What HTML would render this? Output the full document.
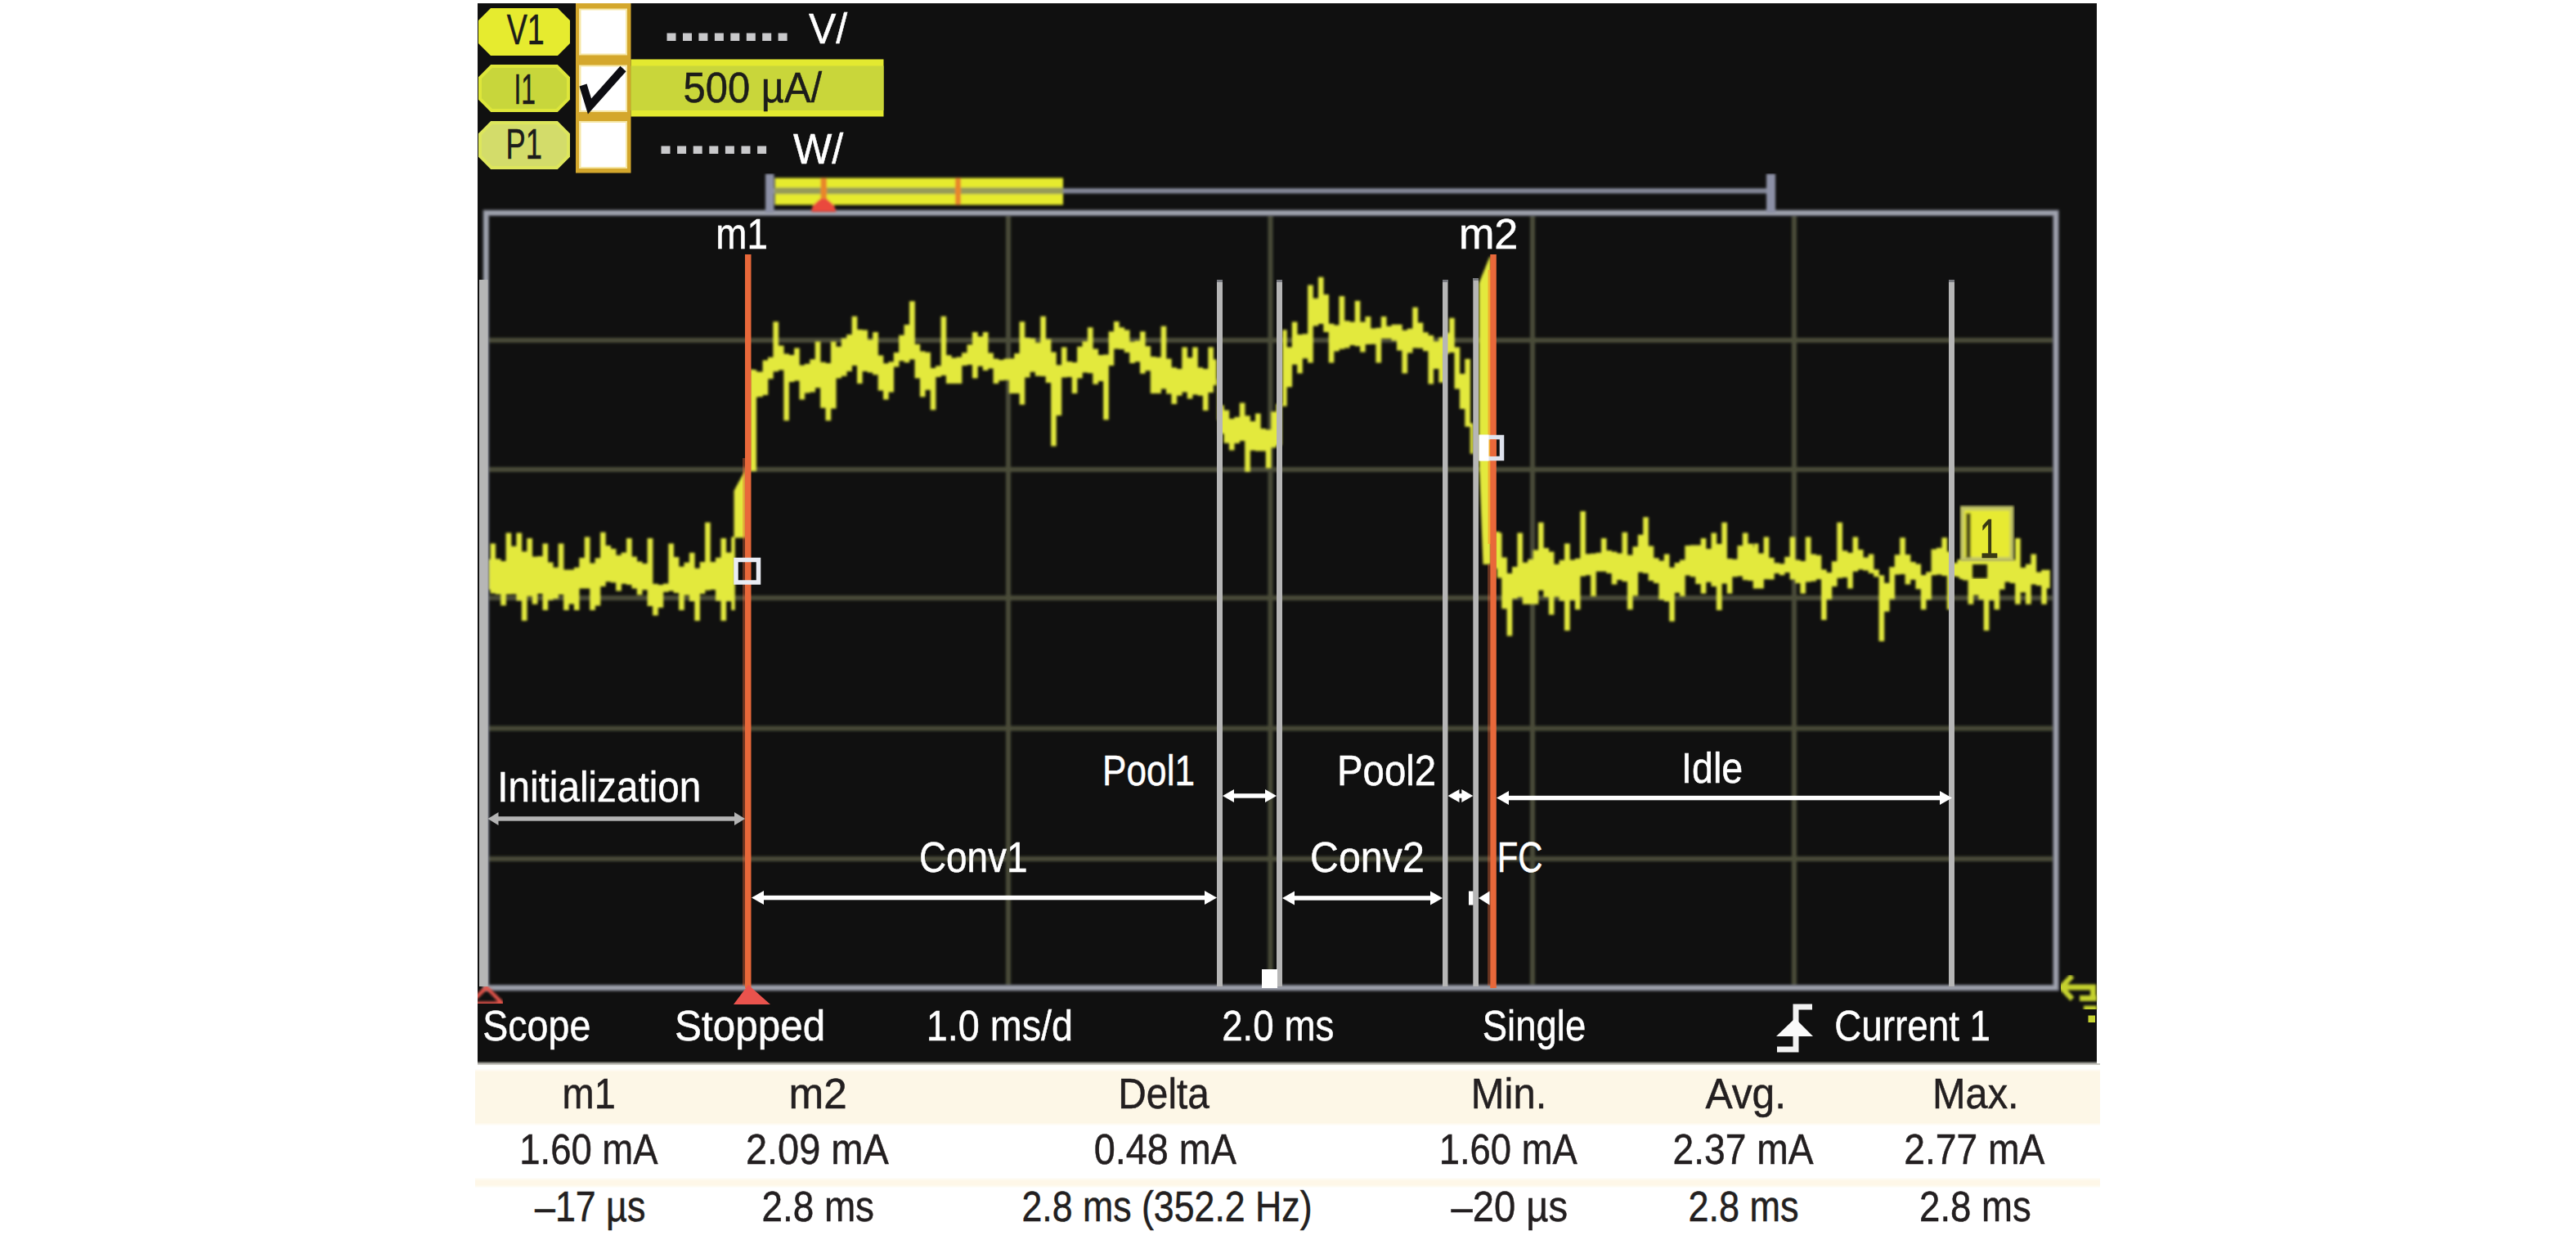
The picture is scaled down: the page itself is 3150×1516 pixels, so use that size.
<!DOCTYPE html>
<html lang="en"><head><meta charset="utf-8"><title>Scope current trace</title>
<style>html,body{margin:0;padding:0;background:#fff}body{width:3150px;height:1516px;overflow:hidden}svg{display:block}text{white-space:pre}</style>
</head><body>
<svg width="3150" height="1516" viewBox="0 0 3150 1516" font-family="'Liberation Sans', sans-serif">
<rect width="3150" height="1516" fill="#fff"/>
<rect x="584" y="4" width="1980" height="1294" fill="#101010"/>
<rect x="584" y="1298" width="1980" height="2" fill="#6e6e6a"/>
<rect x="584" y="1300" width="1984" height="2" fill="#c9c8c2"/>
<rect x="581" y="1307.5" width="1987" height="68" fill="#fefbf3"/>
<rect x="581" y="1309.5" width="1987" height="64" fill="#fdf7e7"/>
<rect x="581" y="1440.5" width="1987" height="11" fill="#fefbf2"/>
<rect x="581" y="1442.5" width="1987" height="7" fill="#fef7e8"/>
<text x="687.6" y="1355.0" font-size="51" fill="#231f20" stroke="#231f20" stroke-width="0.5" textLength="65.2" lengthAdjust="spacingAndGlyphs">m1</text>
<text x="964.6" y="1355.0" font-size="51" fill="#231f20" stroke="#231f20" stroke-width="0.5" textLength="71.2" lengthAdjust="spacingAndGlyphs">m2</text>
<text x="1367.3" y="1355.0" font-size="51" fill="#231f20" stroke="#231f20" stroke-width="0.5" textLength="111.6" lengthAdjust="spacingAndGlyphs">Delta</text>
<text x="1798.8" y="1355.0" font-size="51" fill="#231f20" stroke="#231f20" stroke-width="0.5" textLength="92.5" lengthAdjust="spacingAndGlyphs">Min.</text>
<text x="2085.4" y="1355.0" font-size="51" fill="#231f20" stroke="#231f20" stroke-width="0.5" textLength="98.7" lengthAdjust="spacingAndGlyphs">Avg.</text>
<text x="2363.0" y="1355.0" font-size="51" fill="#231f20" stroke="#231f20" stroke-width="0.5" textLength="105.6" lengthAdjust="spacingAndGlyphs">Max.</text>
<text x="635.3" y="1423.0" font-size="51" fill="#231f20" stroke="#231f20" stroke-width="0.5" textLength="169.2" lengthAdjust="spacingAndGlyphs">1.60 mA</text>
<text x="912.0" y="1423.0" font-size="51" fill="#231f20" stroke="#231f20" stroke-width="0.5" textLength="174.7" lengthAdjust="spacingAndGlyphs">2.09 mA</text>
<text x="1337.7" y="1423.0" font-size="51" fill="#231f20" stroke="#231f20" stroke-width="0.5" textLength="174.4" lengthAdjust="spacingAndGlyphs">0.48 mA</text>
<text x="1759.8" y="1423.0" font-size="51" fill="#231f20" stroke="#231f20" stroke-width="0.5" textLength="168.9" lengthAdjust="spacingAndGlyphs">1.60 mA</text>
<text x="2045.5" y="1423.0" font-size="51" fill="#231f20" stroke="#231f20" stroke-width="0.5" textLength="172.0" lengthAdjust="spacingAndGlyphs">2.37 mA</text>
<text x="2328.2" y="1423.0" font-size="51" fill="#231f20" stroke="#231f20" stroke-width="0.5" textLength="172.3" lengthAdjust="spacingAndGlyphs">2.77 mA</text>
<text x="654.0" y="1493.0" font-size="51" fill="#231f20" stroke="#231f20" stroke-width="0.5" textLength="135.3" lengthAdjust="spacingAndGlyphs">–17 µs</text>
<text x="931.5" y="1493.0" font-size="51" fill="#231f20" stroke="#231f20" stroke-width="0.5" textLength="137.5" lengthAdjust="spacingAndGlyphs">2.8 ms</text>
<text x="1249.4" y="1493.0" font-size="51" fill="#231f20" stroke="#231f20" stroke-width="0.5" textLength="355.2" lengthAdjust="spacingAndGlyphs">2.8 ms (352.2 Hz)</text>
<text x="1774.5" y="1493.0" font-size="51" fill="#231f20" stroke="#231f20" stroke-width="0.5" textLength="142.6" lengthAdjust="spacingAndGlyphs">–20 µs</text>
<text x="2064.4" y="1493.0" font-size="51" fill="#231f20" stroke="#231f20" stroke-width="0.5" textLength="135.1" lengthAdjust="spacingAndGlyphs">2.8 ms</text>
<text x="2347.1" y="1493.0" font-size="51" fill="#231f20" stroke="#231f20" stroke-width="0.5" textLength="136.8" lengthAdjust="spacingAndGlyphs">2.8 ms</text>
<defs><filter id="bg" x="-1%" y="-1%" width="102%" height="102%"><feGaussianBlur stdDeviation="1.4"/></filter></defs>
<g filter="url(#bg)">
<rect x="1230" y="263" width="6" height="942" fill="#484b39"/>
<rect x="1550.5" y="263" width="6" height="942" fill="#484b39"/>
<rect x="1871" y="263" width="6" height="942" fill="#484b39"/>
<rect x="2191" y="263" width="6" height="942" fill="#484b39"/>
<rect x="597" y="413" width="1914" height="6" fill="#484b39"/>
<rect x="597" y="571" width="1914" height="6" fill="#484b39"/>
<rect x="597" y="728" width="1914" height="6" fill="#484b39"/>
<rect x="597" y="887.5" width="1914" height="6" fill="#484b39"/>
<rect x="597" y="1047" width="1914" height="6" fill="#484b39"/>
</g>
<defs><filter id="bl" x="-2%" y="-10%" width="104%" height="120%"><feGaussianBlur stdDeviation="1.8"/></filter></defs>
<g fill="#e3e93d" filter="url(#bl)">
<path d="M596.1 683.7H599.7V721.1H596.1ZM599.4 664.5H606.1V725.6H599.4ZM605.8 683.2H612.5V726.8H605.8ZM612.2 685.9H618.9V740.3H612.2ZM618.6 651.6H625.3V726.7H618.6ZM625.0 667.7H631.7V726.4H625.0ZM631.4 651.6H638.2V734.3H631.4ZM637.9 674.2H644.6V758.9H637.9ZM644.3 658.1H651.0V729.1H644.3ZM650.7 680.6H657.4V738.7H650.7ZM657.1 679.9H663.8V726.1H657.1ZM663.5 664.5H670.2V746.0H663.5ZM669.9 687.6H676.6V733.6H669.9ZM676.3 693.8H683.0V731.9H676.3ZM682.7 664.5H689.4V727.1H682.7ZM689.1 696.6H695.8V746.0H689.1ZM695.5 696.5H702.2V738.6H695.5ZM701.9 693.8H708.6V746.0H701.9ZM708.3 682.1H715.1V719.5H708.3ZM714.8 656.5H721.5V719.5H714.8ZM721.2 688.5H727.9V746.0H721.2ZM727.6 682.2H734.3V740.4H727.6ZM734.0 650.8H740.7V716.9H734.0ZM740.4 667.1H747.1V711.2H740.4ZM746.8 671.1H753.5V712.2H746.8ZM753.2 678.7H759.9V722.6H753.2ZM759.6 675.5H766.3V713.7H759.6ZM766.0 658.1H772.7V715.1H766.0ZM772.4 680.6H779.1V719.4H772.4ZM778.8 686.4H785.5V727.4H778.8ZM785.2 689.0H791.9V721.2H785.2ZM791.6 658.1H798.4V741.1H791.6ZM798.1 713.7H804.8V752.4H798.1ZM804.5 714.9H811.2V742.9H804.5ZM810.9 713.5H817.6V723.7H810.9ZM817.3 664.5H824.0V722.4H817.3ZM823.7 681.0H830.4V725.1H823.7ZM830.1 692.8H836.8V746.0H830.1ZM836.5 687.7H843.2V727.7H836.5ZM842.9 675.8H849.6V734.9H842.9ZM849.3 694.8H856.0V758.9H849.3ZM855.7 687.0H862.4V725.9H855.7ZM862.1 638.7H868.8V721.8H862.1ZM868.5 686.9H875.3V721.1H868.5ZM875.0 681.7H881.7V734.4H875.0ZM881.4 658.1H888.1V758.9H881.4ZM887.8 675.6H894.5V735.1H887.8ZM894.2 656.5H898.8V746.0H894.2Z"/>
<path d="M918.5 451.3H920.1V488.4H918.5ZM919.8 454.2H926.5V485.8H919.8ZM926.2 454.4H932.9V485.2H926.2ZM932.6 440.6H939.3V482.9H932.6ZM939.0 436.8H945.7V463.2H939.0ZM945.4 393.2H952.1V454.2H945.4ZM951.8 422.6H958.6V452.6H951.8ZM958.3 432.5H965.0V514.2H958.3ZM964.7 433.9H971.4V466.9H964.7ZM971.1 425.5H977.8V465.5H971.1ZM977.5 446.5H984.2V488.4H977.5ZM983.9 444.7H990.6V480.4H983.9ZM990.3 439.3H997.0V479.4H990.3ZM996.7 417.4H1003.4V474.2H996.7ZM1003.1 442.7H1009.8V498.7H1003.1ZM1009.5 444.1H1016.2V514.2H1009.5ZM1015.9 417.4H1022.6V499.6H1015.9ZM1022.3 423.8H1029.0V462.6H1022.3ZM1028.7 413.8H1035.5V459.7H1028.7ZM1035.2 409.1H1041.9V454.0H1035.2ZM1041.6 386.8H1048.3V446.9H1041.6ZM1048.0 402.9H1054.7V469.0H1048.0ZM1054.4 403.6H1061.1V453.9H1054.4ZM1060.8 415.3H1067.5V455.4H1060.8ZM1067.2 406.1H1073.9V458.3H1067.2ZM1073.6 434.6H1080.3V477.6H1073.6ZM1080.0 444.2H1086.7V488.4H1080.0ZM1086.4 442.3H1093.1V479.6H1086.4ZM1092.8 431.0H1099.5V448.6H1092.8ZM1099.2 409.7H1105.9V441.3H1099.2ZM1105.6 397.1H1112.3V443.2H1105.6ZM1112.0 368.2H1118.8V439.4H1112.0ZM1118.5 420.8H1125.2V462.4H1118.5ZM1124.9 429.4H1131.6V485.2H1124.9ZM1131.3 430.8H1138.0V476.8H1131.3ZM1137.7 450.0H1144.4V501.3H1137.7ZM1144.1 447.3H1150.8V461.0H1144.1ZM1150.5 386.8H1157.2V459.1H1150.5ZM1156.9 434.3H1163.6V469.0H1156.9ZM1163.3 437.5H1170.0V469.0H1163.3ZM1169.7 436.6H1176.4V469.0H1169.7ZM1176.1 431.3H1182.8V447.1H1176.1ZM1182.5 421.3H1189.2V445.9H1182.5ZM1188.9 406.1H1195.7V462.6H1188.9ZM1195.4 411.5H1202.1V447.8H1195.4ZM1201.8 406.1H1208.5V452.9H1201.8ZM1208.2 431.6H1214.9V450.6H1208.2ZM1214.6 438.6H1221.3V469.0H1214.6ZM1221.0 439.9H1227.7V465.2H1221.0ZM1227.4 438.4H1234.1V464.7H1227.4ZM1233.8 438.2H1240.5V481.0H1233.8ZM1240.2 431.9H1246.9V480.9H1240.2ZM1246.6 393.2H1253.3V494.8H1246.6ZM1253.0 413.1H1259.7V461.5H1253.0ZM1259.4 413.8H1266.1V454.8H1259.4ZM1265.8 418.8H1272.5V459.7H1265.8ZM1272.2 386.8H1279.0V460.0H1272.2ZM1278.7 414.7H1285.4V468.1H1278.7ZM1285.1 430.4H1291.8V545.5H1285.1ZM1291.5 446.2H1298.2V508.1H1291.5ZM1297.9 424.5H1304.6V461.5H1297.9ZM1304.3 441.9H1311.0V461.0H1304.3ZM1310.7 443.1H1317.4V481.0H1310.7ZM1317.1 423.7H1323.8V462.4H1317.1ZM1323.5 417.3H1330.2V455.4H1323.5ZM1329.9 400.3H1336.6V456.3H1329.9ZM1336.3 426.4H1343.0V469.7H1336.3ZM1342.7 433.9H1349.4V465.9H1342.7ZM1349.1 433.5H1355.9V513.2H1349.1ZM1355.6 405.3H1362.3V446.9H1355.6ZM1362.0 393.1H1368.7V426.6H1362.0ZM1368.4 400.2H1375.1V427.0H1368.4ZM1374.8 403.6H1381.5V430.9H1374.8ZM1381.2 417.8H1387.9V443.9H1381.2ZM1387.6 416.5H1394.3V442.3H1387.6ZM1394.0 405.2H1400.7V456.8H1394.0ZM1400.4 423.2H1407.1V453.2H1400.4ZM1406.8 435.9H1413.5V481.0H1406.8ZM1413.2 436.7H1419.9V481.0H1413.2ZM1419.6 398.7H1426.3V475.6H1419.6ZM1426.0 438.5H1432.7V481.5H1426.0ZM1432.4 449.2H1439.2V493.9H1432.4ZM1438.9 451.0H1445.6V483.7H1438.9ZM1445.3 424.5H1452.0V479.6H1445.3ZM1451.7 437.3H1458.4V487.4H1451.7ZM1458.1 424.5H1464.8V482.6H1458.1ZM1464.5 449.2H1471.2V483.8H1464.5ZM1470.9 451.0H1477.6V501.9H1470.9ZM1477.3 424.5H1484.0V480.1H1477.3ZM1483.7 439.4H1487.6V471.0H1483.7Z"/>
<path d="M1488.6 463.5H1490.4V513.8H1488.6ZM1490.1 495.5H1496.8V530.3H1490.1ZM1496.5 501.6H1503.2V541.7H1496.5ZM1502.9 512.0H1509.6V550.6H1502.9ZM1509.3 509.8H1516.1V542.1H1509.3ZM1515.8 492.6H1522.5V539.1H1515.8ZM1522.2 508.2H1528.9V576.8H1522.2ZM1528.6 515.0H1535.3V550.8H1528.6ZM1535.0 505.6H1541.7V551.6H1535.0ZM1541.4 524.0H1548.1V551.5H1541.4ZM1547.8 525.3H1554.5V572.4H1547.8ZM1554.2 503.2H1560.9V547.3H1554.2ZM1560.6 493.8H1567.3V544.2H1560.6Z"/>
<path d="M1568.2 403.2H1573.7V496.8H1568.2ZM1573.4 424.6H1580.1V473.3H1573.4ZM1579.8 393.5H1586.5V445.8H1579.8ZM1586.2 409.1H1592.9V456.5H1586.2ZM1592.6 408.3H1599.4V438.2H1592.6ZM1599.1 348.4H1605.8V443.5H1599.1ZM1605.5 364.8H1612.2V398.6H1605.5ZM1611.9 338.7H1618.6V396.0H1611.9ZM1618.3 360.1H1625.0V406.0H1618.3ZM1624.7 395.7H1631.4V443.5H1624.7ZM1631.1 397.4H1637.8V429.4H1631.1ZM1637.5 362.1H1644.2V426.7H1637.5ZM1643.9 392.2H1650.6V425.6H1643.9ZM1650.3 393.4H1657.0V422.0H1650.3ZM1656.7 367.7H1663.4V423.2H1656.7ZM1663.1 393.4H1669.8V430.6H1663.1ZM1669.5 387.1H1676.3V421.1H1669.5ZM1676.0 401.5H1682.7V420.8H1676.0ZM1682.4 400.7H1689.1V443.5H1682.4ZM1688.8 387.1H1695.5V414.1H1688.8ZM1695.2 398.8H1701.9V414.1H1695.2ZM1701.6 396.8H1708.3V416.4H1701.6ZM1708.0 396.8H1714.7V428.6H1708.0ZM1714.4 403.7H1721.1V456.5H1714.4ZM1720.8 401.8H1727.5V431.6H1720.8ZM1727.2 375.8H1733.9V425.4H1727.2ZM1733.6 394.4H1740.3V425.7H1733.6ZM1740.0 406.2H1746.7V429.2H1740.0ZM1746.4 410.0H1753.1V469.4H1746.4ZM1752.8 417.3H1759.6V451.1H1752.8ZM1759.3 412.6H1766.0V467.7H1759.3ZM1765.7 406.9H1772.4V432.4H1765.7ZM1772.1 388.7H1778.8V431.1H1772.1ZM1778.5 424.5H1785.2V475.5H1778.5ZM1784.9 457.0H1791.6V500.1H1784.9ZM1791.3 438.7H1798.0V521.8H1791.3ZM1797.7 517.4H1801.8V554.8H1797.7Z"/>
<path d="M1830.6 651.6H1836.5V706.5H1830.6ZM1836.2 681.5H1842.9V744.3H1836.2ZM1842.6 700.9H1849.3V777.4H1842.6ZM1849.0 693.0H1855.7V732.0H1849.0ZM1855.4 651.6H1862.1V729.9H1855.4ZM1861.8 687.7H1868.5V738.7H1861.8ZM1868.2 683.8H1874.9V738.7H1868.2ZM1874.6 672.5H1881.3V738.7H1874.6ZM1881.0 638.7H1887.7V721.7H1881.0ZM1887.4 670.0H1894.1V730.1H1887.4ZM1893.8 674.5H1900.5V751.6H1893.8ZM1900.2 689.7H1906.9V729.7H1900.2ZM1906.6 684.8H1913.3V734.6H1906.6ZM1913.0 664.5H1919.8V771.0H1913.0ZM1919.5 684.6H1926.2V733.8H1919.5ZM1925.9 682.7H1932.6V745.2H1925.9ZM1932.3 625.0H1939.0V704.6H1932.3ZM1938.7 677.3H1945.4V703.3H1938.7ZM1945.1 676.7H1951.8V729.0H1945.1ZM1951.5 675.8H1958.2V698.8H1951.5ZM1957.9 658.1H1964.6V698.8H1957.9ZM1964.3 673.0H1971.0V700.9H1964.3ZM1970.7 674.4H1977.4V714.5H1970.7ZM1977.1 676.6H1983.8V708.9H1977.1ZM1983.5 650.8H1990.2V710.9H1983.5ZM1989.9 678.4H1996.7V745.2H1989.9ZM1996.4 668.3H2003.1V728.5H1996.4ZM2002.8 653.7H2009.5V699.7H2002.8ZM2009.2 632.3H2015.9V701.0H2009.2ZM2015.6 667.4H2022.3V710.0H2015.6ZM2022.0 682.3H2028.7V713.1H2022.0ZM2028.4 685.5H2035.1V733.1H2028.4ZM2034.8 677.4H2041.5V735.3H2034.8ZM2041.2 693.7H2047.9V759.7H2041.2ZM2047.6 688.1H2054.3V724.7H2047.6ZM2054.0 684.5H2060.7V729.0H2054.0ZM2060.4 667.1H2067.1V703.6H2060.4ZM2066.8 666.5H2073.5V705.3H2066.8ZM2073.2 666.6H2080.0V713.9H2073.2ZM2079.7 658.1H2086.4V725.8H2079.7ZM2086.1 670.9H2092.8V711.7H2086.1ZM2092.5 651.6H2099.2V717.0H2092.5ZM2098.9 665.1H2105.6V746.0H2098.9ZM2105.3 638.7H2112.0V713.5H2105.3ZM2111.7 683.0H2118.4V725.8H2111.7ZM2118.1 683.7H2124.8V705.2H2118.1ZM2124.5 667.1H2131.2V704.4H2124.5ZM2130.9 651.6H2137.6V709.2H2130.9ZM2137.3 664.7H2144.0V710.0H2137.3ZM2143.7 669.0H2145.5V719.4H2143.7Z"/>
<path d="M2144.7 664.5H2150.4V719.4H2144.7ZM2150.1 676.5H2156.9V719.4H2150.1ZM2156.6 656.5H2163.3V708.2H2156.6ZM2163.0 681.9H2169.7V708.4H2163.0ZM2169.4 688.3H2176.1V701.1H2169.4ZM2175.8 689.2H2182.5V703.2H2175.8ZM2182.2 680.7H2188.9V700.0H2182.2ZM2188.6 656.5H2195.3V708.4H2188.6ZM2195.0 684.5H2201.7V713.0H2195.0ZM2201.4 686.1H2208.1V725.8H2201.4ZM2207.8 656.5H2214.5V711.5H2207.8ZM2214.2 677.6H2220.9V710.8H2214.2ZM2220.6 678.8H2227.3V708.2H2220.6ZM2227.0 696.2H2233.7V758.1H2227.0ZM2233.4 700.1H2240.2V732.8H2233.4ZM2239.9 686.2H2246.6V717.0H2239.9ZM2246.3 638.7H2253.0V706.8H2246.3ZM2252.7 673.3H2259.4V706.0H2252.7ZM2259.1 675.7H2265.8V719.4H2259.1ZM2265.5 656.5H2272.2V698.8H2265.5ZM2271.9 671.9H2278.6V696.3H2271.9ZM2278.3 681.6H2285.0V697.4H2278.3ZM2284.7 677.4H2291.4V701.1H2284.7ZM2291.1 696.3H2297.8V705.3H2291.1ZM2297.5 703.3H2304.2V783.9H2297.5ZM2303.9 712.8H2310.6V747.7H2303.9ZM2310.3 693.2H2317.1V732.6H2310.3ZM2316.8 678.3H2323.5V702.4H2316.8ZM2323.2 657.3H2329.9V701.9H2323.2ZM2329.6 678.1H2336.3V714.5H2329.6ZM2336.0 687.0H2342.7V708.8H2336.0ZM2342.4 689.4H2349.1V720.2H2342.4ZM2348.8 703.1H2355.5V745.2H2348.8ZM2355.2 699.3H2361.9V733.0H2355.2ZM2361.6 671.5H2368.3V703.2H2361.6ZM2368.0 669.7H2374.7V702.5H2368.0ZM2374.4 657.3H2381.1V704.1H2374.4ZM2380.8 674.4H2387.5V745.2H2380.8ZM2387.2 688.3H2393.9V704.7H2387.2ZM2393.6 683.9H2400.4V705.6H2393.6ZM2400.1 689.9H2406.8V709.6H2400.1ZM2406.5 692.7H2413.2V738.7H2406.5ZM2412.9 697.7H2419.6V727.7H2412.9ZM2419.3 699.3H2426.0V733.0H2419.3ZM2425.7 699.3H2432.4V771.0H2425.7ZM2432.1 699.5H2438.8V733.7H2432.1ZM2438.5 697.3H2445.2V745.2H2438.5ZM2444.9 691.4H2451.6V720.8H2444.9ZM2451.3 688.1H2458.0V711.6H2451.3ZM2457.7 685.3H2464.4V713.0H2457.7ZM2464.1 658.1H2470.8V738.7H2464.1ZM2470.5 694.0H2477.3V724.3H2470.5ZM2477.0 689.7H2483.7V738.7H2477.0ZM2483.4 677.4H2490.1V714.4H2483.4ZM2489.8 699.5H2496.5V716.0H2489.8ZM2496.2 696.8H2502.9V738.7H2496.2ZM2502.6 696.8H2506.8V719.3H2502.6Z"/>
<path d="M897.5 600 L910.5 576 L912 570 L912 657.5 L897.5 657.5Z"/>
<rect x="917" y="452" width="8" height="124"/>
<path d="M1808.5 346 L1821.5 314 L1823 314 L1823 690 L1813.5 690 L1808.5 560Z"/>
<rect x="1828" y="650" width="6" height="45"/>
<rect x="2396" y="684" width="67" height="24"/>
</g>
<rect x="1819.5" y="330" width="3.5" height="335" fill="#f0b030"/>
<g filter="url(#bg)">
<rect x="594.3" y="260.3" width="1919.7" height="947.4" fill="none" stroke="#7d808c" stroke-width="7.5"/>
<rect x="594.3" y="260.3" width="1919.7" height="947.4" fill="none" stroke="#a4a7b2" stroke-width="3.5"/>
</g>
<g filter="url(#bg)">
<rect x="946" y="230.2" width="1216" height="6.3" fill="#838797"/>
<rect x="936" y="212.5" width="10.5" height="47.5" fill="#8c90a6"/>
<rect x="2160" y="212.5" width="11" height="47.5" fill="#8c90a6"/>
<rect x="947.5" y="217.5" width="352.5" height="33" fill="#e6eb2f"/>
<rect x="947.5" y="229.3" width="352.5" height="8" fill="#959a58"/>
<rect x="1003.5" y="217.5" width="7.5" height="33" fill="#e8862a"/>
<rect x="1168" y="217.5" width="7" height="33" fill="#e8862a"/>
<path d="M992 259 L994 251 L1003 243 L1011 243 L1020 251 L1022.5 259Z" fill="#ea4a3c"/>
</g>
<rect x="1488" y="342" width="7" height="864" fill="#b6b6b6"/>
<rect x="1488" y="342" width="7" height="3" fill="#77797f"/>
<rect x="1561" y="342" width="7" height="864" fill="#b6b6b6"/>
<rect x="1561" y="342" width="7" height="3" fill="#77797f"/>
<rect x="1764" y="342" width="6.5" height="864" fill="#b6b6b6"/>
<rect x="1764" y="342" width="6.5" height="3" fill="#77797f"/>
<rect x="1801.3" y="340" width="6.7000000000000455" height="866" fill="#b6b6b6"/>
<rect x="1801.3" y="340" width="6.7000000000000455" height="3" fill="#77797f"/>
<rect x="2383" y="342" width="7" height="864" fill="#b6b6b6"/>
<rect x="2383" y="342" width="7" height="3" fill="#77797f"/>
<rect x="586" y="342" width="10.5" height="864" fill="#b6b6b6"/>
<rect x="908" y="560" width="3.5" height="645" fill="#e8683a" opacity="0.4"/>
<rect x="911" y="311" width="7.5" height="897" fill="#e8683a"/>
<rect x="1822.3" y="311" width="7.5" height="897" fill="#e8683a"/>
<rect x="1819" y="690" width="3.5" height="515" fill="#e8683a" opacity="0.4"/>
<path d="M915 1204 L942 1228 L897 1228Z" fill="#ea534d"/>
<path d="M594.8 1207 L614.5 1226.8 L575 1226.8Z" fill="none" stroke="#e2524a" stroke-width="4.6" stroke-linejoin="miter" filter="url(#bg)"/>
<rect x="560" y="1200" width="24" height="40" fill="#fff"/>
<rect x="900" y="684.5" width="27.5" height="27.5" fill="none" stroke="#e9ecf4" stroke-width="5.5"/>
<rect x="1811.5" y="534.5" width="25" height="26" fill="none" stroke="#dfe3ee" stroke-width="5.5"/>
<rect x="1808.5" y="531.5" width="12" height="32" fill="#fff"/>
<rect x="1822.3" y="537" width="7.5" height="21" fill="#e8683a"/>
<rect x="1543" y="1185" width="19" height="23" fill="#fff"/>
<g filter="url(#bg)">
<rect x="2412" y="690" width="18" height="17" fill="#15150d"/>
<rect x="2397" y="618.5" width="65.5" height="67.5" fill="#c2c566"/>
<rect x="2402" y="624" width="55.5" height="57" fill="#e7ea31"/>
<rect x="2404" y="627.5" width="6" height="54.5" fill="#4d4e1d"/>
</g>
<text x="2420.4" y="681.5" font-size="69" fill="#3a3a14" stroke="#3a3a14" stroke-width="0.5" textLength="23.7" lengthAdjust="spacingAndGlyphs">1</text>
<path d="M600 10 L682 10 L697 25 L697 53 L682 68 L600 68 L585 53 L585 25Z" fill="#e6eb2f"/>
<path d="M601 81 L681 81 L695 95 L695 121 L681 135 L601 135 L587 121 L587 95Z" fill="#c8d63b" stroke="#dde63a" stroke-width="4"/>
<path d="M601 150 L681 150 L695 164 L695 191 L681 205 L601 205 L587 191 L587 164Z" fill="#d3dc6a" stroke="#dde65c" stroke-width="4"/>
<rect x="704" y="4" width="67.5" height="207.5" fill="#d4a72c"/>
<rect x="708" y="10.5" width="59" height="57.0" fill="#f6e7a6"/>
<rect x="710.5" y="12.5" width="54.5" height="53.0" fill="#fff"/>
<rect x="708" y="79.5" width="59" height="57.5" fill="#f6e7a6"/>
<rect x="710.5" y="81.5" width="54.5" height="53.5" fill="#fff"/>
<rect x="708" y="148" width="59" height="58" fill="#f6e7a6"/>
<rect x="710.5" y="150" width="54.5" height="54" fill="#fff"/>
<rect x="771.5" y="72.5" width="309" height="70" fill="#e3e930"/>
<rect x="771.5" y="80.5" width="309" height="54.5" fill="#c9d63a"/>
<path d="M713 104 L721 130 L762 84" fill="none" stroke="#0d0d12" stroke-width="9.5" stroke-linejoin="miter"/>
<rect x="815.5" y="40.5" width="11" height="9.5" fill="#c9c9cb"/>
<rect x="835.0" y="40.5" width="11" height="9.5" fill="#c9c9cb"/>
<rect x="854.4" y="40.5" width="11" height="9.5" fill="#c9c9cb"/>
<rect x="873.9" y="40.5" width="11" height="9.5" fill="#c9c9cb"/>
<rect x="893.3" y="40.5" width="11" height="9.5" fill="#c9c9cb"/>
<rect x="912.8" y="40.5" width="11" height="9.5" fill="#c9c9cb"/>
<rect x="932.2" y="40.5" width="11" height="9.5" fill="#c9c9cb"/>
<rect x="951.6" y="40.5" width="11" height="9.5" fill="#c9c9cb"/>
<rect x="808.5" y="178.5" width="11" height="9.5" fill="#c9c9cb"/>
<rect x="828.1" y="178.5" width="11" height="9.5" fill="#c9c9cb"/>
<rect x="847.7" y="178.5" width="11" height="9.5" fill="#c9c9cb"/>
<rect x="867.3" y="178.5" width="11" height="9.5" fill="#c9c9cb"/>
<rect x="886.9" y="178.5" width="11" height="9.5" fill="#c9c9cb"/>
<rect x="906.5" y="178.5" width="11" height="9.5" fill="#c9c9cb"/>
<rect x="926.1" y="178.5" width="11" height="9.5" fill="#c9c9cb"/>
<text x="619.7" y="53.5" font-size="51" fill="#1c1c1a" stroke="#1c1c1a" stroke-width="0.5" textLength="46.0" lengthAdjust="spacingAndGlyphs">V1</text>
<text x="628.5" y="127.0" font-size="51" fill="#1c1c1a" stroke="#1c1c1a" stroke-width="0.5" textLength="26.5" lengthAdjust="spacingAndGlyphs">I1</text>
<text x="618.5" y="194.0" font-size="51" fill="#1c1c1a" stroke="#1c1c1a" stroke-width="0.5" textLength="44.5" lengthAdjust="spacingAndGlyphs">P1</text>
<text x="835.6" y="125.0" font-size="51" fill="#1c1c1a" stroke="#1c1c1a" stroke-width="0.5" textLength="169.6" lengthAdjust="spacingAndGlyphs">500 µA/</text>
<text x="989.0" y="52.5" font-size="51" fill="#fff" stroke="#fff" stroke-width="0.5" textLength="47.2" lengthAdjust="spacingAndGlyphs">V/</text>
<text x="970.0" y="200.0" font-size="51" fill="#fff" stroke="#fff" stroke-width="0.5" textLength="61.2" lengthAdjust="spacingAndGlyphs">W/</text>
<text x="875.3" y="304.0" font-size="51" fill="#fff" stroke="#fff" stroke-width="0.5" textLength="63.6" lengthAdjust="spacingAndGlyphs">m1</text>
<text x="1783.9" y="304.0" font-size="51" fill="#fff" stroke="#fff" stroke-width="0.5" textLength="72.5" lengthAdjust="spacingAndGlyphs">m2</text>
<text x="590.2" y="1271.5" font-size="51" fill="#fff" stroke="#fff" stroke-width="0.5" textLength="132.1" lengthAdjust="spacingAndGlyphs">Scope</text>
<text x="825.1" y="1271.5" font-size="51" fill="#fff" stroke="#fff" stroke-width="0.5" textLength="184.2" lengthAdjust="spacingAndGlyphs">Stopped</text>
<text x="1132.7" y="1271.5" font-size="51" fill="#fff" stroke="#fff" stroke-width="0.5" textLength="179.4" lengthAdjust="spacingAndGlyphs">1.0 ms/d</text>
<text x="1494.2" y="1271.5" font-size="51" fill="#fff" stroke="#fff" stroke-width="0.5" textLength="137.1" lengthAdjust="spacingAndGlyphs">2.0 ms</text>
<text x="1812.8" y="1271.5" font-size="51" fill="#fff" stroke="#fff" stroke-width="0.5" textLength="126.4" lengthAdjust="spacingAndGlyphs">Single</text>
<text x="2243.2" y="1271.5" font-size="51" fill="#fff" stroke="#fff" stroke-width="0.5" textLength="190.9" lengthAdjust="spacingAndGlyphs">Current 1</text>
<path d="M2216 1231 L2196 1231 L2196 1283 L2173 1283" fill="none" stroke="#f2f2f2" stroke-width="7"/>
<path d="M2195 1245 L2217 1267 L2172 1267Z" fill="#fafafa"/>
<g stroke="#c5d22f" fill="none" filter="url(#bg)"><path d="M2534 1193 L2520.5 1207 L2534 1221.5" stroke-width="6.5"/><path d="M2522 1207 H2559.5 V1220.5" stroke-width="7"/><path d="M2543 1220.5 H2564" stroke-width="7"/><path d="M2548 1233 H2564" stroke-width="7"/></g>
<rect x="2553.5" y="1241.5" width="8.5" height="8.5" fill="#c5d22f"/>
<rect x="607.5" y="998.2" width="292.5" height="5.5" fill="#b4b4b4"/>
<path d="M596.5 1001 L609.5 993 L609.5 1009Z" fill="#b4b4b4"/>
<path d="M911 1001 L898 993 L898 1009Z" fill="#b4b4b4"/>
<rect x="932.0" y="1094.8" width="543.0" height="5.5" fill="#fff"/>
<path d="M919 1097.5 L934 1089.0 L934 1106.0Z" fill="#fff"/>
<path d="M1488 1097.5 L1473 1089.0 L1473 1106.0Z" fill="#fff"/>
<rect x="1507.0" y="970.2" width="42.0" height="5.5" fill="#fff"/>
<path d="M1495 973 L1509 965 L1509 981Z" fill="#fff"/>
<path d="M1561 973 L1547 965 L1547 981Z" fill="#fff"/>
<rect x="1782.5" y="970.2" width="6.8" height="5.5" fill="#fff"/>
<path d="M1770.5 973 L1784.5 965 L1784.5 981Z" fill="#fff"/>
<path d="M1801.3 973 L1787.3 965 L1787.3 981Z" fill="#fff"/>
<rect x="1581.0" y="1095.2" width="170.0" height="5.5" fill="#fff"/>
<path d="M1568 1098 L1583 1089.5 L1583 1106.5Z" fill="#fff"/>
<path d="M1764 1098 L1749 1089.5 L1749 1106.5Z" fill="#fff"/>
<rect x="1843.0" y="972.8" width="531.0" height="5.5" fill="#fff"/>
<path d="M1830 975.5 L1845 967.0 L1845 984.0Z" fill="#fff"/>
<path d="M2387 975.5 L2372 967.0 L2372 984.0Z" fill="#fff"/>
<rect x="1796" y="1089.5" width="5.5" height="17" fill="#fff"/>
<path d="M1808 1098 L1821.5 1089.5 L1821.5 1106.5Z" fill="#fff"/>
<text x="608.3" y="980.0" font-size="51" fill="#fff" stroke="#fff" stroke-width="0.5" textLength="248.9" lengthAdjust="spacingAndGlyphs">Initialization</text>
<text x="1123.9" y="1066.0" font-size="51" fill="#fff" stroke="#fff" stroke-width="0.5" textLength="132.7" lengthAdjust="spacingAndGlyphs">Conv1</text>
<text x="1348.1" y="960.0" font-size="51" fill="#fff" stroke="#fff" stroke-width="0.5" textLength="112.9" lengthAdjust="spacingAndGlyphs">Pool1</text>
<text x="1634.9" y="960.0" font-size="51" fill="#fff" stroke="#fff" stroke-width="0.5" textLength="121.3" lengthAdjust="spacingAndGlyphs">Pool2</text>
<text x="1602.1" y="1066.0" font-size="51" fill="#fff" stroke="#fff" stroke-width="0.5" textLength="139.7" lengthAdjust="spacingAndGlyphs">Conv2</text>
<text x="1830.7" y="1065.5" font-size="51" fill="#fff" stroke="#fff" stroke-width="0.5" textLength="55.8" lengthAdjust="spacingAndGlyphs">FC</text>
<text x="2056.0" y="957.0" font-size="51" fill="#fff" stroke="#fff" stroke-width="0.5" textLength="75.2" lengthAdjust="spacingAndGlyphs">Idle</text>
</svg>
</body></html>
